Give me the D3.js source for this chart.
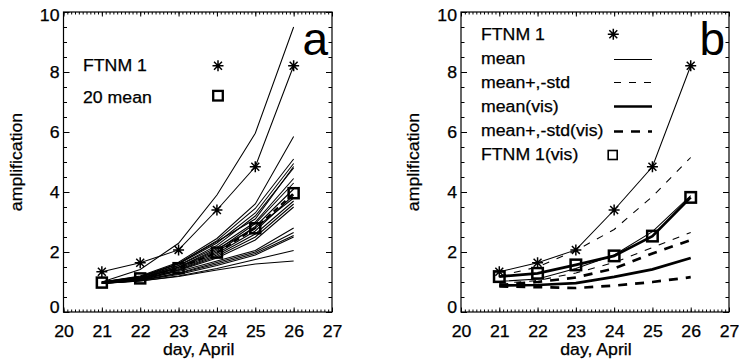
<!DOCTYPE html>
<html><head><meta charset="utf-8">
<script src="https://cdn.jsdelivr.net/npm/d3@7"></script>
<style>
body{margin:0;background:#fff;}
svg{display:block;}
text{font-family:"Liberation Sans",Arial,Helvetica,sans-serif;fill:#000;}
text.st{stroke:#000;stroke-width:0.25px;}
</style></head>
<body>
<svg id="chart" width="739" height="361"></svg>
<script>
// ---------------- data ----------------
const days = [21, 22, 23, 24, 25, 26];
const xTickValues = [20, 21, 22, 23, 24, 25, 26, 27];
const yTickValues = [0, 2, 4, 6, 8, 10];

// panel a
const ftnm1 = [1.34, 1.64, 2.07, 3.40, 4.84, 8.21];
const mean20 = [0.98, 1.12, 1.46, 1.98, 2.79, 3.96];
const member01 = [1.00, 1.42, 2.29, 3.90, 5.96, 9.50];
const member02 = [1.00, 1.20, 1.66, 2.45, 3.60, 5.85];
const member03 = [1.00, 1.18, 1.62, 2.38, 3.45, 5.10];
const member04 = [0.98, 1.15, 1.60, 2.30, 3.30, 4.95];
const member05 = [1.00, 1.17, 1.62, 2.35, 3.10, 4.85];
const member06 = [0.97, 1.12, 1.55, 2.22, 3.20, 4.80];
const member07 = [1.00, 1.15, 1.55, 2.15, 3.00, 4.45];
const member08 = [0.98, 1.12, 1.50, 2.05, 2.95, 4.30];
const member09 = [0.97, 1.10, 1.48, 2.00, 2.85, 4.10];
const member10 = [1.00, 1.12, 1.45, 1.95, 2.70, 3.90];
const member11 = [0.96, 1.10, 1.50, 2.10, 2.80, 3.80];
const member12 = [0.98, 1.08, 1.42, 1.90, 2.60, 3.70];
const member13 = [0.97, 1.08, 1.40, 1.85, 2.50, 3.60];
const member14 = [0.95, 1.05, 1.38, 1.80, 2.40, 3.50];
const member15 = [0.97, 1.08, 1.35, 1.70, 2.05, 2.80];
const member16 = [0.96, 1.06, 1.30, 1.65, 2.00, 2.65];
const member17 = [0.95, 1.05, 1.28, 1.60, 1.95, 2.55];
const member18 = [0.96, 1.05, 1.25, 1.55, 1.90, 2.50];
const member19 = [0.95, 1.03, 1.20, 1.45, 1.75, 2.05];
const member20 = [0.95, 1.03, 1.18, 1.40, 1.60, 1.70];
const members = [member01, member02, member03, member04, member05, member06, member07,
  member08, member09, member10, member11, member12, member13, member14, member15,
  member16, member17, member18, member19, member20];

// panel b
const bMean = [1.02, 1.10, 1.45, 1.90, 2.68, 3.88];
const bMeanPlusStd = [1.20, 1.50, 2.05, 2.75, 3.85, 5.15];
const bMeanMinusStd = [0.95, 1.05, 1.30, 1.65, 2.15, 2.65];
const bMeanVis = [0.88, 0.90, 0.96, 1.17, 1.42, 1.80];
const bMeanPlusStdVis = [0.90, 1.00, 1.15, 1.45, 1.95, 2.40];
const bMeanMinusStdVis = [0.85, 0.83, 0.80, 0.88, 1.00, 1.16];
const bFtnm1Vis = [1.18, 1.29, 1.57, 1.87, 2.53, 3.82];

const legendA = ["FTNM 1", "20 mean"];
const legendB = ["FTNM 1", "mean", "mean+,-std", "mean(vis)", "mean+,-std(vis)", "FTNM 1(vis)"];

// ---------------- drawing ----------------
const svg = d3.select("#chart");
const FS = "15.8px";
const THIN = 1.05;
const THICK = 2.7;
const y = d3.scaleLinear().domain([0, 10]).range([312, 12]);

function asterisk(r) {
  const d = r * 0.72;
  return `M${-r},0H${r}M0,${-r}V${r}M${-d},${-d}L${d},${d}M${-d},${d}L${d},${-d}`;
}

function frame(g, x, letter) {
  const [x0, x1] = x.range();
  const [y0, y1] = [y(0), y(10)];
  const minorX = d3.range(200, 271).map(v => v / 10);
  const minorY = d3.range(0, 21).map(v => v / 2);
  g.append("g").attr("transform", `translate(0,${y0})`)
    .call(d3.axisBottom(x).tickValues(minorX).tickSize(-2.5).tickFormat(""));
  g.append("g").attr("class", "lab").attr("transform", `translate(0,${y0})`)
    .call(d3.axisBottom(x).tickValues(xTickValues).tickSize(-4.5).tickPadding(14).tickFormat(d3.format("d")));
  g.append("g").attr("transform", `translate(0,${y1})`)
    .call(d3.axisTop(x).tickValues(minorX).tickSize(-2.5).tickFormat(""));
  g.append("g").attr("transform", `translate(0,${y1})`)
    .call(d3.axisTop(x).tickValues(xTickValues).tickSize(-4.5).tickFormat(""));
  g.append("g").attr("transform", `translate(${x0},0)`)
    .call(d3.axisLeft(y).tickValues(minorY).tickSize(-3.5).tickFormat(""));
  const left = g.append("g").attr("class", "lab").attr("transform", `translate(${x0},0)`)
    .call(d3.axisLeft(y).tickValues(yTickValues).tickSize(-6).tickPadding(4).tickFormat(d3.format("d")));
  left.selectAll(".tick text").attr("y", d => d === 10 ? 3.5 : (d === 0 ? -5 : 0));
  g.append("g").attr("transform", `translate(${x1},0)`)
    .call(d3.axisRight(y).tickValues(minorY).tickSize(-3.5).tickFormat(""));
  g.append("g").attr("transform", `translate(${x1},0)`)
    .call(d3.axisRight(y).tickValues(yTickValues).tickSize(-6).tickFormat(""));

  g.selectAll(".domain").remove();
  g.selectAll(".tick line").attr("stroke", "#000").attr("stroke-width", 1);
  g.selectAll(".lab .tick text").attr("font-family", null).attr("class", "st").style("font-size", FS);

  g.append("rect").attr("x", x0).attr("y", y1).attr("width", x1 - x0).attr("height", y0 - y1)
    .attr("fill", "none").attr("stroke", "#000").attr("stroke-width", 1.2);

  g.append("text").attr("class", "st").attr("x", (x0 + x1) / 2 + 1).attr("y", 355)
    .attr("text-anchor", "middle").style("font-size", FS).text("day, April");
  g.append("text").attr("class", "st")
    .attr("transform", `translate(${x0 - 42},${(y0 + y1) / 2})rotate(-90)`)
    .attr("text-anchor", "middle").style("font-size", FS).text("amplification");
  g.append("text").attr("x", x1 - 4).attr("y", 55).attr("text-anchor", "end")
    .style("font-size", "46px").text(letter);
}

function drawLine(g, x, vals, w, dash) {
  const line = d3.line().x((d, i) => x(days[i])).y(d => y(d));
  g.append("path").datum(vals).attr("d", line).attr("fill", "none")
    .attr("stroke", "#000").attr("stroke-width", w)
    .attr("stroke-dasharray", dash || null).attr("stroke-linejoin", "miter");
}
function drawAsterisks(g, x, vals) {
  g.selectAll(null).data(vals).enter().append("path")
    .attr("transform", (d, i) => `translate(${x(days[i])},${y(d)})`)
    .attr("d", asterisk(5.5)).attr("stroke", "#000").attr("stroke-width", 1.5).attr("fill", "none");
}
function drawSquares(g, x, vals, s, w) {
  g.selectAll(null).data(vals).enter().append("rect")
    .attr("x", (d, i) => x(days[i]) - s / 2).attr("y", d => y(d) - s / 2)
    .attr("width", s).attr("height", s).attr("fill", "none")
    .attr("stroke", "#000").attr("stroke-width", w);
}

// ----- panel a -----
const xA = d3.scaleLinear().domain([20, 27]).range([63.5, 332]);
const gA = svg.append("g");
members.forEach(m => drawLine(gA, xA, m, THIN));
drawLine(gA, xA, ftnm1, THIN);
drawLine(gA, xA, mean20, 2, "6,4");
drawAsterisks(gA, xA, ftnm1);
drawSquares(gA, xA, mean20, 10, 2.5);
frame(gA, xA, "a");
gA.append("text").attr("class", "st").attr("x", 83).attr("y", 70.7).style("font-size", FS).text(legendA[0]);
gA.append("text").attr("class", "st").attr("x", 83).attr("y", 102.5).style("font-size", FS).text(legendA[1]);
gA.append("path").attr("transform", "translate(218,65.7)").attr("d", asterisk(5.5))
  .attr("stroke", "#000").attr("stroke-width", 1.5).attr("fill", "none");
gA.append("rect").attr("x", 218 - 4.8).attr("y", 95.7 - 4.8).attr("width", 9.6).attr("height", 9.6)
  .attr("fill", "none").attr("stroke", "#000").attr("stroke-width", 2.3);

// ----- panel b -----
const xB = d3.scaleLinear().domain([20, 27]).range([461, 729]);
const gB = svg.append("g");
drawLine(gB, xB, bMeanPlusStd, THIN, "7,8");
drawLine(gB, xB, bMeanMinusStd, THIN, "7,8");
drawLine(gB, xB, bMean, THIN);
drawLine(gB, xB, bMeanPlusStdVis, THICK, "9,8");
drawLine(gB, xB, bMeanMinusStdVis, THICK, "9,8");
drawLine(gB, xB, bMeanVis, THICK);
drawLine(gB, xB, ftnm1, THIN);
drawLine(gB, xB, bFtnm1Vis, THICK);
drawAsterisks(gB, xB, ftnm1);
drawSquares(gB, xB, bFtnm1Vis, 10.5, 2.5);
frame(gB, xB, "b");

const legY = [40, 64, 88, 112, 136, 160];
legendB.forEach((t, i) => {
  gB.append("text").attr("class", "st").attr("x", 481).attr("y", legY[i]).style("font-size", FS).text(t);
});
gB.append("path").attr("transform", `translate(613.3,${legY[0] - 5.7})`).attr("d", asterisk(5.5))
  .attr("stroke", "#000").attr("stroke-width", 1.5).attr("fill", "none");
const legLine = (yy, w, dash) => gB.append("line").attr("x1", 614).attr("x2", 652)
  .attr("y1", yy).attr("y2", yy).attr("stroke", "#000").attr("stroke-width", w)
  .attr("stroke-dasharray", dash || null);
legLine(legY[1] - 4.5, THIN);
legLine(legY[2] - 5.5, THIN, "7,8");
legLine(legY[3] - 5.5, THICK);
legLine(legY[4] - 4.5, THICK, "9,8");
gB.append("rect").attr("x", 612.7 - 4.5).attr("y", legY[5] - 5 - 4.5).attr("width", 9).attr("height", 9)
  .attr("fill", "none").attr("stroke", "#000").attr("stroke-width", 1.6);

// widen glyphs slightly to match the reference's wide sans font
svg.selectAll("text.st").each(function () {
  const L = this.getComputedTextLength();
  this.setAttribute("textLength", L * 1.12);
  this.setAttribute("lengthAdjust", "spacingAndGlyphs");
});
</script>
</body></html>
